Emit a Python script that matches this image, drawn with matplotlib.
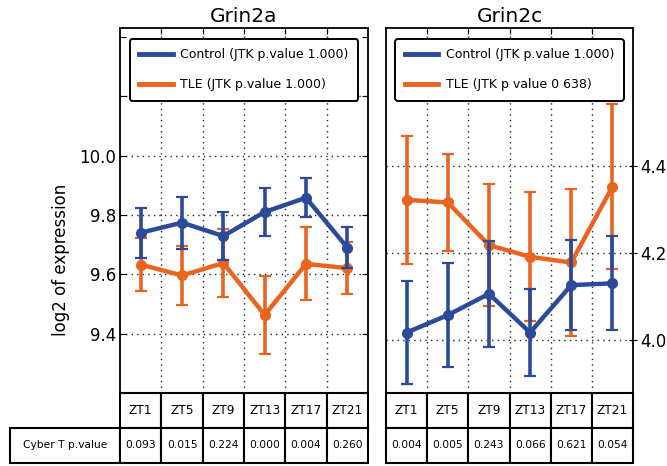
import matplotlib
matplotlib.use('Agg')
import matplotlib.pyplot as plt
from matplotlib.lines import Line2D

# data
zt = ['ZT1', 'ZT5', 'ZT9', 'ZT13', 'ZT17', 'ZT21']

grin2a_ctrl = [9.740, 9.774, 9.729, 9.810, 9.858, 9.690]
grin2a_ctrl_err = [0.085, 0.088, 0.082, 0.082, 0.066, 0.070]
grin2a_tle = [9.633, 9.596, 9.638, 9.463, 9.635, 9.621]
grin2a_tle_err = [0.090, 0.100, 0.115, 0.130, 0.123, 0.089]
grin2a_pvals = ['0.093', '0.015', '0.224', '0.000', '0.004', '0.260']

grin2c_ctrl = [4.017, 4.057, 4.106, 4.017, 4.126, 4.130]
grin2c_ctrl_err = [0.118, 0.120, 0.122, 0.100, 0.104, 0.108]
grin2c_tle = [4.322, 4.316, 4.218, 4.191, 4.178, 4.352]
grin2c_tle_err = [0.147, 0.112, 0.140, 0.148, 0.170, 0.190]
grin2c_pvals = ['0.004', '0.005', '0.243', '0.066', '0.621', '0.054']

blue = '#2c4a9a'
orange = '#e9641f'

W, H = 667, 466
fig = plt.figure(figsize=(W / 100, H / 100), dpi=100)

ax_h = 365 / H
ax_b = (H - 393) / H
ax1 = fig.add_axes([120 / W, ax_b, 248 / W, ax_h])
ax2 = fig.add_axes([386 / W, ax_b, 247 / W, ax_h])

x = [i + 0.5 for i in range(len(zt))]


def panel(ax, title, ctrl, ctrl_err, tle, tle_err, labels):
    ax.errorbar(x, tle, yerr=tle_err, color=orange, lw=3.2, marker='o', ms=7,
                elinewidth=2.6, capsize=4.5, capthick=1.6, zorder=3)
    ax.errorbar(x, ctrl, yerr=ctrl_err, color=blue, lw=3.2, marker='o', ms=7,
                elinewidth=2.6, capsize=4.5, capthick=1.6, zorder=4)
    ax.set_xlim(0, len(zt))
    ax.set_xticks(range(1, len(zt)))
    ax.set_xticklabels([])
    ax.grid(True, linestyle=(0, (1, 3)), color='#222222', linewidth=1.0)
    ax.set_axisbelow(True)
    ax.set_title(title, fontsize=14.5, pad=4)
    for s in ax.spines.values():
        s.set_linewidth(1.3)
    ax.tick_params(axis='x', direction='in', top=True, bottom=False, length=4)
    handles = [Line2D([], [], color=blue, lw=3.5), Line2D([], [], color=orange, lw=3.5)]
    leg = ax.legend(handles, labels, loc='upper center', bbox_to_anchor=(0.5, 1 - 11 / 365),
                    borderaxespad=0, fontsize=9, handlelength=2.7, handletextpad=0.6,
                    labelspacing=1.35, borderpad=0.75, fancybox=True, framealpha=1)
    leg.get_frame().set_edgecolor('black')
    leg.get_frame().set_linewidth(1.4)
    leg.set_zorder(6)


panel(ax1, 'Grin2a', grin2a_ctrl, grin2a_ctrl_err, grin2a_tle, grin2a_tle_err,
      ['Control (JTK p.value 1.000)', 'TLE (JTK p.value 1.000)'])
panel(ax2, 'Grin2c', grin2c_ctrl, grin2c_ctrl_err, grin2c_tle, grin2c_tle_err,
      ['Control (JTK p.value 1.000)', 'TLE (JTK p value 0 638)'])

# left panel axis
ax1.set_ylim(9.2, 10.43)
ax1.set_yticks([9.4, 9.6, 9.8, 10.0, 10.2, 10.4])
ax1.set_yticklabels(['9.4', '9.6', '9.8', '10.0', '', ''], fontsize=12)
ax1.tick_params(axis='y', direction='in', left=True, right=True, length=4, pad=3)
ax1.get_ygridlines()[-1].set_visible(False)
ax1.set_ylabel('log2 of expression', fontsize=12)
ax1.yaxis.set_label_coords(-0.2, 0.364)

# right panel axis
ax2.set_ylim(3.878, 4.717)
ax2.set_yticks([4.0, 4.2, 4.4])
ax2.set_yticklabels(['4.0', '4.2', '4.4'], fontsize=12)
ax2.tick_params(axis='y', direction='inout', left=False, right=True, labelleft=False,
                labelright=True, length=6, pad=2)

# tables under the axes
tab_h = 70 / 365
col_w = 41.33
lab_w = 110
tab1 = ax1.table(cellText=[[''] + zt, ['Cyber T p.value'] + grin2a_pvals],
                 colWidths=[lab_w] + [col_w] * 6, cellLoc='center',
                 bbox=[-lab_w / 248, -tab_h, (lab_w + 248) / 248, tab_h])
tab2 = ax2.table(cellText=[zt, grin2c_pvals], colWidths=[col_w] * 6, cellLoc='center',
                 bbox=[0, -tab_h, 1, tab_h])
for tab in (tab1, tab2):
    tab.auto_set_font_size(False)
    for (r, c), cell in tab.get_celld().items():
        cell.set_linewidth(1.5)
        cell.set_edgecolor('black')
        cell.get_text().set_fontsize(8.8 if r == 0 else 7.7)
tab1[0, 0].visible_edges = 'open'

fig.savefig('out.png', dpi=100)
